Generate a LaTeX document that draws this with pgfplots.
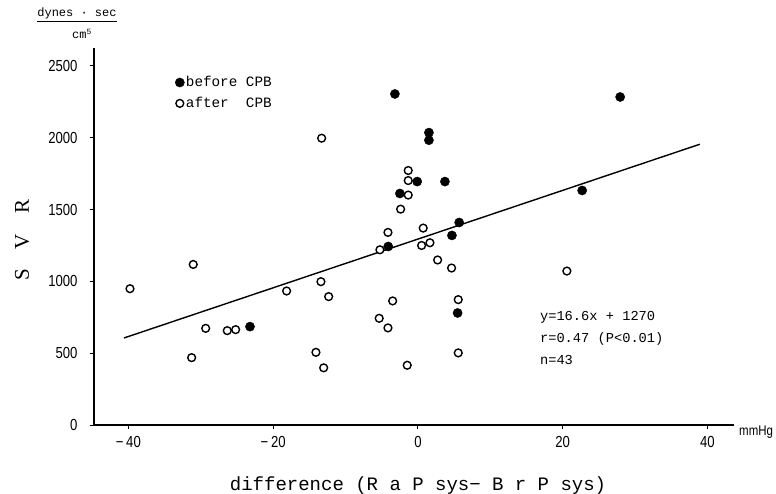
\documentclass[border=0pt]{standalone}
\usepackage{fontspec}
\setmainfont{Liberation Mono}
\newfontfamily\tickf[FakeStretch=0.82]{Liberation Sans}
\newfontfamily\serf{Liberation Serif}
\usepackage{pgfplots}
\pgfplotsset{compat=1.18}

\pgfplotstableread{
x y
-3.18 2305
1.52 2036
1.52 1983
-0.10 1695
3.73 1695
-2.49 1612
5.70 1410
4.70 1320
-4.10 1243
5.48 780
27.94 2284
22.69 1633
-23.20 685
}\before

\pgfplotstableread{
x y
-13.30 1997
-39.78 949
-31.04 1118
-29.32 673
-26.34 657
-25.18 664
-31.26 469
-18.14 933
-13.40 998
-12.33 894
-14.09 506
-13.02 398
-1.34 1772
-1.34 1702
-1.34 1601
-2.39 1503
-4.14 1341
0.73 1371
-5.25 1220
0.51 1250
1.66 1269
2.72 1149
4.65 1093
-3.49 864
-5.35 743
-4.14 676
5.57 873
5.57 502
-1.48 416
20.58 1072
}\after

\begin{document}
\begin{tikzpicture}
\useasboundingbox (-94pt,-68pt) rectangle (682pt,425pt);
\begin{axis}[
  at={(0pt,0pt)}, anchor=south west,
  scale only axis, width=639.5pt, height=377pt,
  xmin=-44.75, xmax=43.6, ymin=0, ymax=2625,
  axis x line=bottom, axis y line=left,
  axis line style={-, line width=1.2pt, black},
  tick align=outside, major tick length=4pt,
  tick style={line width=1pt, black},
  xtick={-40,-20,0,20,40},
  xticklabels={−\,40,−\,20,0,20,40},
  ytick={0,500,1000,1500,2000,2500},
  yticklabels={0,500,1000,1500,2000,2500},
  ticklabel style={font=\tickf\fontsize{16}{18}\selectfont},
  xticklabel style={yshift=-4pt},
  yticklabel style={xshift=-9pt},
  clip=false,
  legend style={at={(axis description cs:0.1267,0.93)}, anchor=north west,
    draw=none, fill=none, font=\fontsize{14.3}{15}\selectfont,
    row sep=5pt, inner sep=0pt, nodes={inner xsep=1.5pt}},
  legend cell align=left,
  legend image code/.code={\draw[#1] plot coordinates {(0.12cm,0cm)};},
]
\addplot[black, line width=1.4pt, forget plot] coordinates {(-40.6,606) (38.95,1955)};
\addplot[only marks, mark=*, mark size=4.6pt, draw=black, fill=black] table {\before};
\addlegendentry{before CPB}
\addplot[only marks, mark=*, mark size=3.9pt, mark options={line width=1.4pt, draw=black, fill=white}] table {\after};
\addlegendentry{after\ \ CPB}

\node[anchor=base west, font=\fontsize{13.7}{15}\selectfont, inner sep=0pt] at (axis cs:16.85,727) {y=16.6x + 1270};
\node[anchor=base west, font=\fontsize{13.7}{15}\selectfont, inner sep=0pt] at (axis cs:16.85,574) {r=0.47 (P<0.01)};
\node[anchor=base west, font=\fontsize{13.7}{15}\selectfont, inner sep=0pt] at (axis cs:16.85,421) {n=43};

\node[anchor=center, font=\fontsize{19}{21}\selectfont] at (axis description cs:0.5067,-0.162) {difference (R a P sys− B r P sys)};
\node[anchor=center, rotate=90, font=\serf\fontsize{21}{24}\selectfont] at (axis description cs:-0.1126,0.49) {S\hspace{20pt}V\hspace{20pt}R};
\node[anchor=center, font=\fontsize{12}{14}\selectfont, inner sep=0pt] at (axis description cs:-0.0266,1.088) {\underline{dynes · sec}};
\node[anchor=center, font=\fontsize{12}{14}\selectfont, inner sep=0pt] at (axis description cs:-0.0188,1.038) {cm\textsuperscript{5}};
\node[anchor=west, font=\tickf\fontsize{14}{16}\selectfont, inner sep=0pt] at (axis description cs:1.0086,-0.0186) {mmHg};
\end{axis}
\end{tikzpicture}
\end{document}
